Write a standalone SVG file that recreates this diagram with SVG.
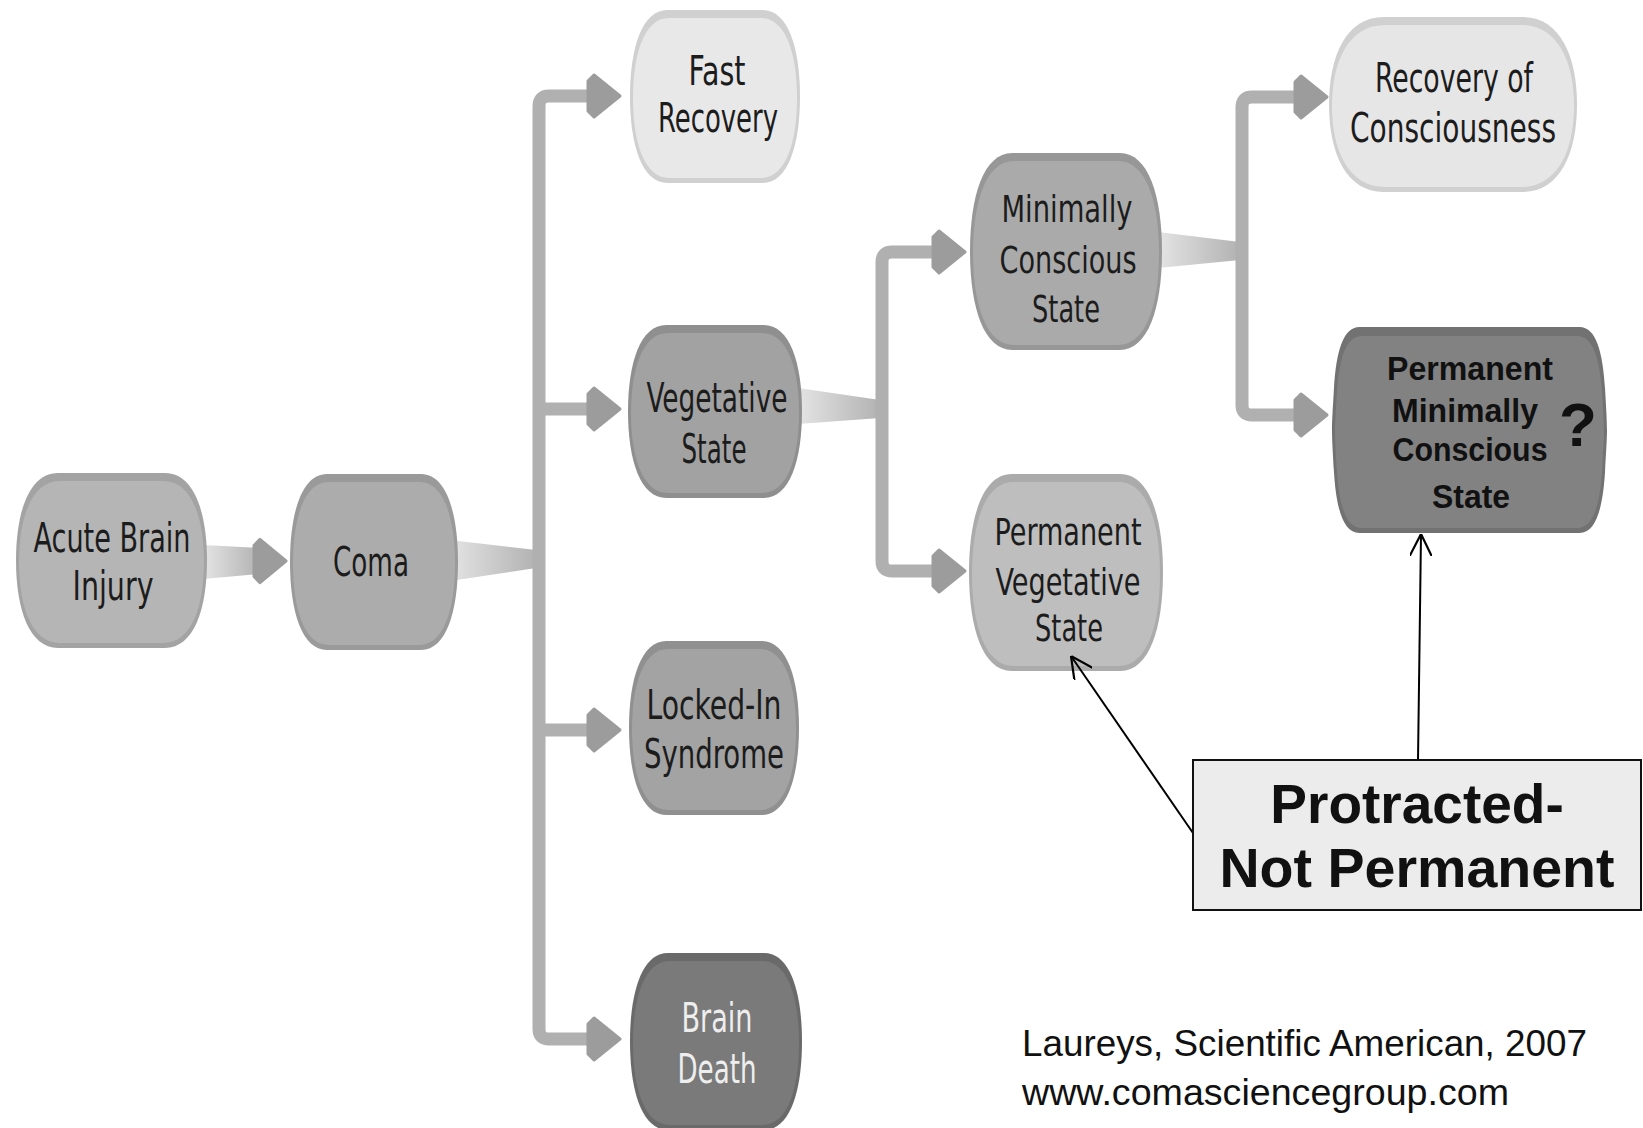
<svg xmlns="http://www.w3.org/2000/svg" xmlns:xlink="http://www.w3.org/1999/xlink" width="1643" height="1128" viewBox="0 0 1643 1128">
<style>
.t{font-family:"DejaVu Sans Condensed","DejaVu Sans",sans-serif;font-stretch:condensed;font-size:40px;fill:#1c1c1c;text-anchor:middle}
.tb{font-family:"Liberation Sans",Arial,sans-serif;font-weight:bold;font-size:34px;fill:#111;text-anchor:middle}
.box{font-family:"Liberation Sans",Arial,sans-serif;font-weight:bold;font-size:55px;fill:#111;text-anchor:middle}
.cite{font-family:"Liberation Sans",Arial,sans-serif;font-size:36.5px;fill:#111}
.bar{fill:none;stroke:#b0b0b0;stroke-width:13}
.head{fill:#9c9c9c;stroke:#9c9c9c;stroke-width:3;stroke-linejoin:round}
.ann{fill:none;stroke:#000;stroke-width:2}
</style>
<defs>
<path id="barrel" d="M22,0 H78 C93,0 100,22 100,50 C100,78 93,100 78,100 H22 C7,100 0,78 0,50 C0,22 7,0 22,0 Z"/>
<path id="barrel2" d="M10,0 H90 C96,0 98.5,12 99.3,30 C99.8,42 100,46 100,50 C100,54 99.8,58 99.3,70 C98.5,88 96,100 90,100 H10 C4,100 1.5,88 0.7,70 C0.2,58 0,54 0,50 C0,46 0.2,42 0.7,30 C1.5,12 4,0 10,0 Z"/>
<polygon id="ahead" points="-32,-15 -26,-21 0,0 -26,21 -32,15"/>
<linearGradient id="wedge" x1="0" y1="0" x2="1" y2="0">
<stop offset="0" stop-color="#e4e4e4"/>
<stop offset="1" stop-color="#b2b2b2"/>
</linearGradient>
<marker id="open" viewBox="0 0 20 20" refX="20" refY="10" markerWidth="22" markerHeight="22" markerUnits="userSpaceOnUse" orient="auto">
<path d="M0,0 L20,10 L0,20" fill="none" stroke="#000" stroke-width="2"/>
</marker>
</defs>
<rect width="1643" height="1128" fill="#fff"/>

<g id="connectors">
<polygon points="450,540 536,550 536,568 450,581" fill="url(#wedge)"/>
<polygon points="798,388 880,400 880,418 798,424" fill="url(#wedge)"/>
<polygon points="1158,232 1240,242 1240,260 1158,268" fill="url(#wedge)"/>
<polygon points="203,545 260,548 260,574 203,579" fill="url(#wedge)"/>
<use href="#ahead" class="head" transform="translate(286,561) scale(1,1.03)"/>

<path class="bar" d="M592,96 H549 Q539,96 539,106 V1029 Q539,1039 549,1039 H592"/>
<path class="bar" d="M539,409 H592 M539,730 H592"/>
<use href="#ahead" class="head" transform="translate(620,96)"/>
<use href="#ahead" class="head" transform="translate(620,409)"/>
<use href="#ahead" class="head" transform="translate(620,730)"/>
<use href="#ahead" class="head" transform="translate(620,1039)"/>

<path class="bar" d="M937,252 H892 Q882,252 882,262 V561 Q882,571 892,571 H937"/>
<use href="#ahead" class="head" transform="translate(965,252)"/>
<use href="#ahead" class="head" transform="translate(965,571)"/>

<path class="bar" d="M1299,97 H1252 Q1242,97 1242,107 V405 Q1242,415 1252,415 H1299"/>
<use href="#ahead" class="head" transform="translate(1327,97)"/>
<use href="#ahead" class="head" transform="translate(1327,415)"/>
</g>

<g id="acute-brain-injury">
<use href="#barrel" fill="#a3a3a3" transform="translate(16,473) scale(1.91,1.75)"/>
<use href="#barrel" fill="#b5b5b5" transform="translate(19,481) scale(1.85,1.62)"/>
<text class="t" x="112" y="552" textLength="157" lengthAdjust="spacingAndGlyphs">Acute Brain</text>
<text class="t" x="113" y="600" textLength="81" lengthAdjust="spacingAndGlyphs">Injury</text>
</g>

<g id="coma">
<use href="#barrel" fill="#9a9a9a" transform="translate(290,474) scale(1.68,1.76)"/>
<use href="#barrel" fill="#acacac" transform="translate(293,482) scale(1.62,1.63)"/>
<text class="t" x="371" y="576" textLength="76" lengthAdjust="spacingAndGlyphs">Coma</text>
</g>

<g id="fast-recovery">
<use href="#barrel" fill="#d0d0d0" transform="translate(630,10) scale(1.7,1.73)"/>
<use href="#barrel" fill="#e8e8e8" transform="translate(633,18) scale(1.64,1.6)"/>
<text class="t" x="717" y="85" textLength="57" lengthAdjust="spacingAndGlyphs">Fast</text>
<text class="t" x="718" y="132" textLength="120" lengthAdjust="spacingAndGlyphs">Recovery</text>
</g>

<g id="vegetative-state">
<use href="#barrel" fill="#8f8f8f" transform="translate(628,325) scale(1.74,1.73)"/>
<use href="#barrel" fill="#a2a2a2" transform="translate(631,333) scale(1.68,1.6)"/>
<text class="t" x="717" y="412" textLength="141" lengthAdjust="spacingAndGlyphs">Vegetative</text>
<text class="t" x="714" y="463" textLength="65" lengthAdjust="spacingAndGlyphs">State</text>
</g>

<g id="locked-in-syndrome">
<use href="#barrel" fill="#909090" transform="translate(629,641) scale(1.7,1.74)"/>
<use href="#barrel" fill="#a3a3a3" transform="translate(632,649) scale(1.64,1.61)"/>
<text class="t" x="714" y="719" textLength="135" lengthAdjust="spacingAndGlyphs">Locked-In</text>
<text class="t" x="714" y="768" textLength="140" lengthAdjust="spacingAndGlyphs">Syndrome</text>
</g>

<g id="brain-death">
<use href="#barrel" fill="#6a6a6a" transform="translate(630,953) scale(1.72,1.77)"/>
<use href="#barrel" fill="#7a7a7a" transform="translate(633,961) scale(1.66,1.64)"/>
<text class="t" x="717" y="1032" textLength="71" lengthAdjust="spacingAndGlyphs" style="fill:#eeeeee">Brain</text>
<text class="t" x="717" y="1083" textLength="79" lengthAdjust="spacingAndGlyphs" style="fill:#eeeeee">Death</text>
</g>

<g id="minimally-conscious-state">
<use href="#barrel" fill="#979797" transform="translate(970,153) scale(1.92,1.97)"/>
<use href="#barrel" fill="#aaaaaa" transform="translate(973,161) scale(1.86,1.84)"/>
<text class="t" x="1067" y="222" textLength="131" lengthAdjust="spacingAndGlyphs" style="font-size:38px">Minimally</text>
<text class="t" x="1068" y="273" textLength="137" lengthAdjust="spacingAndGlyphs" style="font-size:38px">Conscious</text>
<text class="t" x="1066" y="322" textLength="68" lengthAdjust="spacingAndGlyphs" style="font-size:38px">State</text>
</g>

<g id="permanent-vegetative-state">
<use href="#barrel" fill="#ababab" transform="translate(969,474) scale(1.94,1.97)"/>
<use href="#barrel" fill="#bebebe" transform="translate(972,482) scale(1.88,1.84)"/>
<text class="t" x="1068" y="545" textLength="147" lengthAdjust="spacingAndGlyphs" style="font-size:38px">Permanent</text>
<text class="t" x="1068" y="595" textLength="145" lengthAdjust="spacingAndGlyphs" style="font-size:38px">Vegetative</text>
<text class="t" x="1069" y="641" textLength="68" lengthAdjust="spacingAndGlyphs" style="font-size:38px">State</text>
</g>

<g id="recovery-of-consciousness">
<use href="#barrel" fill="#d0d0d0" transform="translate(1329,17) scale(2.48,1.75)"/>
<use href="#barrel" fill="#e6e6e6" transform="translate(1332,25) scale(2.42,1.62)"/>
<text class="t" x="1454" y="92" textLength="158" lengthAdjust="spacingAndGlyphs">Recovery of</text>
<text class="t" x="1453" y="142" textLength="206" lengthAdjust="spacingAndGlyphs">Consciousness</text>
</g>

<g id="permanent-minimally-conscious-state">
<use href="#barrel2" fill="#727272" transform="translate(1332,327) scale(2.75,2.06)"/>
<use href="#barrel2" fill="#828282" transform="translate(1335,336) scale(2.69,1.92)"/>
<text class="tb" x="1470" y="380" textLength="166" lengthAdjust="spacingAndGlyphs">Permanent</text>
<text class="tb" x="1465" y="422" textLength="146" lengthAdjust="spacingAndGlyphs">Minimally</text>
<text class="tb" x="1470" y="461" textLength="155" lengthAdjust="spacingAndGlyphs">Conscious</text>
<text class="tb" x="1471" y="508" textLength="78" lengthAdjust="spacingAndGlyphs">State</text>
<text class="tb" x="1578" y="446" style="font-size:62px">?</text>
</g>

<g id="annotations">
<line class="ann" x1="1193" y1="833" x2="1071" y2="656" marker-end="url(#open)"/>
<line class="ann" x1="1418" y1="760" x2="1421" y2="534" marker-end="url(#open)"/>
</g>

<g id="protracted-box">
<rect x="1193" y="760" width="448" height="150" fill="#ececec" stroke="#111" stroke-width="2"/>
<text class="box" x="1417" y="823">Protracted-</text>
<text class="box" x="1417" y="887" textLength="395" lengthAdjust="spacingAndGlyphs">Not Permanent</text>
</g>

<g id="citation">
<text class="cite" x="1022" y="1056" textLength="565" lengthAdjust="spacingAndGlyphs">Laureys, Scientific American, 2007</text>
<text class="cite" x="1022" y="1105" textLength="487" lengthAdjust="spacingAndGlyphs">www.comasciencegroup.com</text>
</g>
</svg>
